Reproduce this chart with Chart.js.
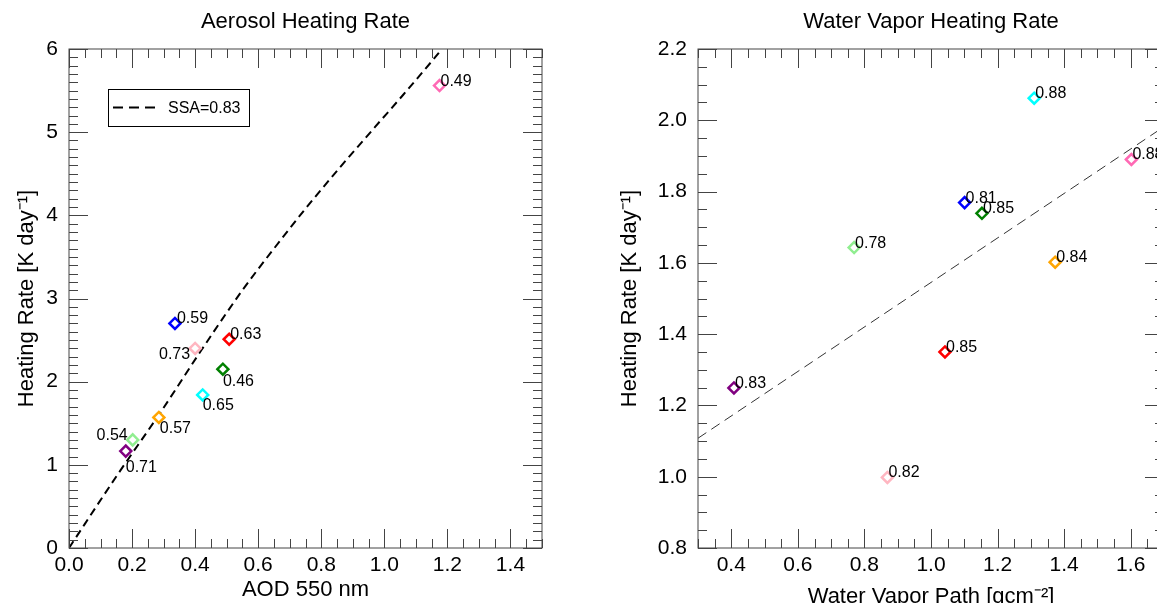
<!DOCTYPE html>
<html>
<head>
<meta charset="utf-8">
<script src="https://cdn.jsdelivr.net/npm/chart.js@4.4.1/dist/chart.umd.min.js"></script>
<style>
html, body { margin: 0; padding: 0; width: 1157px; height: 603px; overflow: hidden; background: #fff; }
canvas { position: absolute; top: 0; }
#aod_chart { left: 0; }
#wv_chart { left: 580px; }
</style>
</head>
<body>
<canvas id="aod_chart" width="580" height="603"></canvas>
<canvas id="wv_chart" width="620" height="610"></canvas>
<script>
// one colour per site, same order in both panels
const site_colors = ['#ff69b4', '#0000ff', '#ffb6c1', '#ff0000', '#008000', '#00ffff', '#ffa500', '#90ee90', '#800080'];

// left panel: aerosol heating rate vs AOD
const aod_values = [1.175, 0.336, 0.400, 0.508, 0.488, 0.424, 0.285, 0.202, 0.180];
const aod_heating = [5.56, 2.70, 2.40, 2.51, 2.15, 1.84, 1.57, 1.30, 1.165];
const aod_ssa = ['0.49', '0.59', '0.73', '0.63', '0.46', '0.65', '0.57', '0.54', '0.71'];
const ssa_curve_aod = [0, 0.15, 0.29, 0.42, 0.55, 0.65, 0.75, 0.86, 0.97, 1.06, 1.15, 1.183];
const ssa_curve_heating = [0, 0.86, 1.63, 2.38, 3.1, 3.6, 4.08, 4.58, 5.06, 5.45, 5.85, 6.0];
const aod_ticks = [0, 0.2, 0.4, 0.6, 0.8, 1.0, 1.2, 1.4];
const aod_hr_ticks = [0, 1, 2, 3, 4, 5, 6];

// right panel: water vapor heating rate vs water vapor path
const wvp_values = [1.602, 1.101, 0.869, 1.042, 1.153, 1.310, 1.373, 0.769, 0.408];
const wv_heating = [1.890, 1.769, 0.998, 1.350, 1.739, 2.062, 1.602, 1.643, 1.249];
const wv_ssa = ['0.88', '0.81', '0.82', '0.85', '0.85', '0.88', '0.84', '0.78', '0.83'];
const wv_fit_path = [0.3, 1.7];
const wv_fit_heating = [1.108, 1.982];
const wvp_ticks = [0.4, 0.6, 0.8, 1.0, 1.2, 1.4, 1.6];
const wv_hr_ticks = [0.8, 1.0, 1.2, 1.4, 1.6, 1.8, 2.0, 2.2];

const font_family = "'Liberation Sans', Arial, Helvetica, sans-serif";

// where each SSA label sits relative to its marker (dx, dy, align)
const aod_label_pos = [[1, 0, 'left'], [2, 0, 'left'], [-5, 11, 'right'], [1, 0, 'left'], [0, 17, 'left'],
	[0, 15, 'left'], [1, 16, 'left'], [-5, 0, 'right'], [0, 21, 'left']];

// IDL style frame: box with inward ticks on all four sides, point labels, legend box
const idl_frame = {
	id: 'idl_frame',
	afterDatasetsDraw(chart, args, o) {
		const {ctx, chartArea: a, scales: {x, y}} = chart
		ctx.save()
		ctx.strokeStyle = '#444'
		ctx.lineWidth = 1
		ctx.strokeRect(a.left, a.top, a.right - a.left, a.bottom - a.top)

		ctx.beginPath()
		const nx = Math.round((x.max - x.min) / o.x_minor)
		for (let i = 0; i <= nx; i++) {
			const v = x.min + i * o.x_minor
			const r = v / o.x_major
			const len = Math.abs(r - Math.round(r)) < 1e-6 ? 19 : 9
			const px = Math.round(x.getPixelForValue(v)) + 0.5
			ctx.moveTo(px, a.bottom); ctx.lineTo(px, a.bottom - len)
			ctx.moveTo(px, a.top); ctx.lineTo(px, a.top + len)
		}
		const ny = Math.round((y.max - y.min) / o.y_minor)
		for (let i = 0; i <= ny; i++) {
			const v = y.min + i * o.y_minor
			const r = v / o.y_major
			const len = Math.abs(r - Math.round(r)) < 1e-6 ? 19 : 9
			const py = Math.round(y.getPixelForValue(v)) + 0.5
			ctx.moveTo(a.left, py); ctx.lineTo(a.left + len, py)
			ctx.moveTo(a.right, py); ctx.lineTo(a.right - len, py)
		}
		ctx.stroke()

		ctx.fillStyle = '#000'
		ctx.font = '16px ' + font_family
		ctx.textBaseline = 'alphabetic'
		chart.getDatasetMeta(0).data.forEach((pt, i) => {
			const [dx, dy, align] = o.label_pos ? o.label_pos[i] : [1, 0, 'left']
			ctx.textAlign = align
			ctx.fillText(o.labels[i], pt.x + dx, pt.y + dy)
		})

		if (o.legend) {
			const [bx, by, bw, bh] = o.legend.box
			ctx.strokeStyle = '#000'
			ctx.strokeRect(bx + 0.5, by + 0.5, bw, bh)
			ctx.lineWidth = 2
			ctx.setLineDash([10, 6])
			ctx.beginPath()
			ctx.moveTo(bx + 5, by + bh / 2); ctx.lineTo(bx + 47, by + bh / 2)
			ctx.stroke()
			ctx.setLineDash([])
			ctx.font = '16px ' + font_family
			ctx.textAlign = 'left'
			ctx.textBaseline = 'middle'
			ctx.fillText(o.legend.text, bx + 60, by + bh / 2 + 1)
		}
		ctx.restore()
	}
}

function axis(min, max, tick_values, fmt, title, size, title_pad, horizontal) {
	return {
		type: 'linear',
		min: min,
		max: max,
		afterBuildTicks: s => { s.ticks = tick_values.map(v => ({value: v})) },
		afterFit: s => { if (horizontal) s.height = size; else s.width = size },
		grid: {display: false, drawTicks: false},
		border: {display: false},
		ticks: {
			font: {family: font_family, size: 21},
			color: '#000',
			padding: horizontal ? 5 : 11,
			maxRotation: 0,
			autoSkip: false,
			callback: v => v.toFixed(fmt)
		},
		title: {
			display: true,
			text: title,
			color: '#000',
			font: {family: font_family, size: 22},
			padding: {top: title_pad, bottom: 0}
		}
	}
}

function construct_chart(canvas_id, cfg) {
	return new Chart(document.getElementById(canvas_id), {
		type: 'scatter',
		data: {
			datasets: [{
				data: cfg.xs.map((v, i) => ({x: v, y: cfg.ys[i]})),
				pointStyle: 'rectRot',
				pointRadius: 5.5,
				pointHoverRadius: 5.5,
				pointBorderWidth: 2.5,
				pointBorderColor: site_colors,
				pointBackgroundColor: '#fff',
				showLine: false
			}, {
				data: cfg.line_x.map((v, i) => ({x: v, y: cfg.line_y[i]})),
				showLine: true,
				pointRadius: 0,
				borderColor: cfg.line_color,
				borderWidth: cfg.line_width,
				borderDash: cfg.line_dash,
				cubicInterpolationMode: 'monotone',
				fill: false
			}]
		},
		options: {
			responsive: false,
			animation: false,
			events: [],
			layout: {padding: {left: 0, top: 0, right: cfg.pad_right, bottom: 0}},
			plugins: {
				legend: {display: false},
				tooltip: {enabled: false},
				title: {
					display: true,
					text: cfg.title,
					color: '#000',
					fullSize: false,
					font: {family: font_family, size: 22, weight: 'normal'},
					padding: {top: 9, bottom: 13.6}
				},
				idl_frame: cfg.frame
			},
			scales: {
				x: axis(cfg.x_min, cfg.x_max, cfg.x_ticks, 1, cfg.x_title, cfg.x_height, -2, true),
				y: axis(cfg.y_min, cfg.y_max, cfg.y_ticks, cfg.y_fmt, cfg.y_title, cfg.y_width, cfg.y_title_pad, false)
			}
		},
		plugins: [idl_frame]
	})
}

construct_chart('aod_chart', {
	title: 'Aerosol Heating Rate',
	xs: aod_values, ys: aod_heating,
	line_x: ssa_curve_aod, line_y: ssa_curve_heating,
	line_color: '#000', line_width: 2, line_dash: [8, 5],
	x_min: 0, x_max: 1.5, x_ticks: aod_ticks, x_title: 'AOD 550 nm', x_height: 55,
	y_min: 0, y_max: 6, y_ticks: aod_hr_ticks, y_fmt: 0, y_title: 'Heating Rate [K day⁻¹]', y_width: 69, y_title_pad: 14,
	pad_right: 38,
	frame: {x_minor: 0.05, x_major: 0.2, y_minor: 0.1, y_major: 1, labels: aod_ssa, label_pos: aod_label_pos,
		legend: {text: 'SSA=0.83', box: [108, 89, 141, 37]}}
})

construct_chart('wv_chart', {
	title: 'Water Vapor Heating Rate',
	xs: wvp_values, ys: wv_heating,
	line_x: wv_fit_path, line_y: wv_fit_heating,
	line_color: '#333', line_width: 1, line_dash: [10, 6],
	x_min: 0.3, x_max: 1.7, x_ticks: wvp_ticks, x_title: 'Water Vapor Path [gcm⁻²]', x_height: 62,
	y_min: 0.8, y_max: 2.2, y_ticks: wv_hr_ticks, y_fmt: 1, y_title: 'Heating Rate [K day⁻¹]', y_width: 118, y_title_pad: 37,
	pad_right: 36,
	frame: {x_minor: 0.05, x_major: 0.2, y_minor: 0.05, y_major: 0.2, labels: wv_ssa}
})
</script>
</body>
</html>
